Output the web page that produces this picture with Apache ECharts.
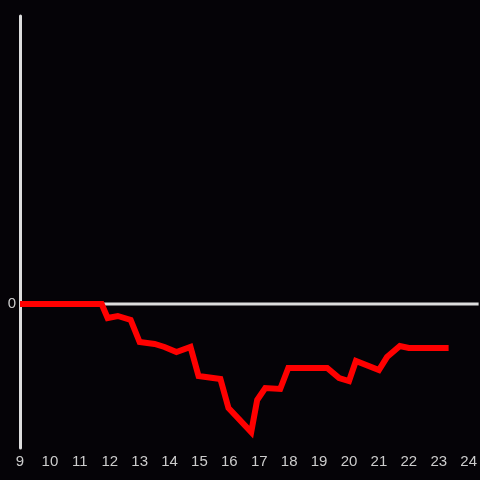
<!DOCTYPE html>
<html>
<head>
<meta charset="utf-8">
<script src="https://cdn.jsdelivr.net/npm/echarts@6/dist/echarts.min.js"></script>
<style>
  html, body { margin: 0; padding: 0; background: #050307; }
  #chart { width: 480px; height: 480px; }
</style>
</head>
<body>
<div id="chart"></div>
<script>
// hour of day
const hours = [9, 11.73, 11.93, 12.27, 12.7, 13.0, 13.5, 13.83, 14.23, 14.7, 14.97, 15.7, 15.97,
  16.73, 16.93, 17.2, 17.7, 17.97, 19.27, 19.67, 20.0, 20.23, 21.0, 21.27, 21.7, 22.0, 23.33]
const values = [0, 0, -0.117, -0.1, -0.133, -0.317, -0.333, -0.358, -0.4, -0.358, -0.6, -0.625, -0.867,
  -1.067, -0.8, -0.7, -0.708, -0.533, -0.533, -0.617, -0.642, -0.475, -0.55, -0.442, -0.35, -0.367, -0.367]
const zeroLine = [[9, 0], [24.333, 0]]

const chart = echarts.init(document.getElementById('chart'))
chart.setOption({
  backgroundColor: '#050307',
  animation: false,
  grid: { left: 20, right: 0, top: 16, bottom: 32 },
  xAxis: {
    type: 'value',
    min: 9,
    max: 24.333,
    interval: 1,
    axisLine: { show: false, onZero: false },
    axisTick: { show: false },
    splitLine: { show: false },
    axisLabel: {
      color: '#cccccc',
      fontSize: 15,
      fontFamily: 'Liberation Sans',
      margin: 6,
      showMaxLabel: false,
    },
  },
  yAxis: {
    type: 'value',
    min: -1.2,
    max: 2.4,
    interval: 1.2,
    axisLine: { show: true, lineStyle: { color: '#dddddd', width: 3 } },
    axisTick: { show: false },
    splitLine: { show: false },
    axisLabel: {
      color: '#cccccc',
      fontSize: 15,
      fontFamily: 'Liberation Sans',
      margin: 4,
      formatter: (v) => (v === 0 ? '0' : ''),
    },
  },
  series: [
    {
      type: 'line',
      data: zeroLine,
      symbol: 'none',
      silent: true,
      z: 1,
      lineStyle: { color: '#dddddd', width: 3 },
    },
    {
      type: 'line',
      data: hours.map((h, i) => [h, values[i]]),
      symbol: 'none',
      z: 3,
      lineStyle: { color: '#ff0000', width: 6, join: 'miter' },
    },
  ],
})
</script>
</body>
</html>
